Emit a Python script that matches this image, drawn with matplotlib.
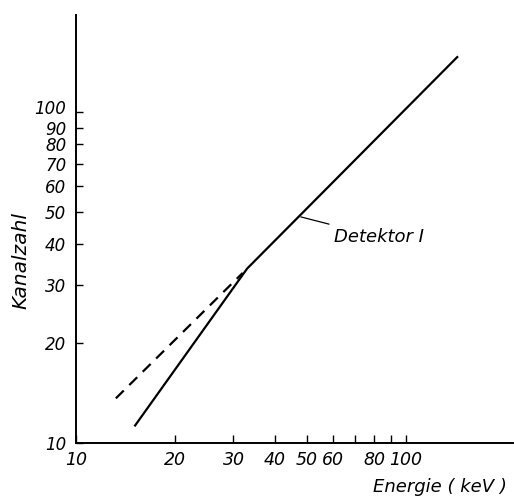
import numpy as np
import matplotlib.pyplot as plt
from matplotlib.ticker import FixedLocator, NullLocator, FixedFormatter
from matplotlib.transforms import ScaledTranslation

# measured curve of detector I (energy in keV, channel number)
energy_det = [15.1, 33.0, 143.0]
channel_det = [11.3, 33.7, 147.0]

# linear extrapolation of the upper part to low energies
energy_extra = [13.2, 32.0]
channel_extra = [13.65, 32.7]

x_ticks = [10, 20, 30, 40, 50, 60, 70, 80, 90, 100]
x_labels = ["10", "20", "30", "40", "50", "60", "", "80", "", "100"]
y_ticks = [10, 20, 30, 40, 50, 60, 70, 80, 90, 100]
y_labels = ["10", "20", "30", "40", "50", "60", "70", "80", "90", "100"]


def make_plot():
    fig = plt.figure(figsize=(5.14, 4.98), dpi=100)
    ax = fig.add_axes([0.148, 0.1104, 0.850, 0.8594])
    ax.set_xscale("log")
    ax.set_yscale("log")
    ax.set_xlim(10, 211)
    ax.set_ylim(10, 197)

    ax.plot(energy_det, channel_det, color="black", linewidth=1.6)
    ax.plot(energy_extra, channel_extra, color="black", linewidth=1.6,
            linestyle=(0, (5, 3.5)))

    for side in ["top", "right"]:
        ax.spines[side].set_visible(False)
    for side in ["left", "bottom"]:
        ax.spines[side].set_linewidth(1.4)

    ax.xaxis.set_major_locator(FixedLocator(x_ticks))
    ax.xaxis.set_major_formatter(FixedFormatter(x_labels))
    ax.xaxis.set_minor_locator(NullLocator())
    ax.yaxis.set_major_locator(FixedLocator(y_ticks))
    ax.yaxis.set_major_formatter(FixedFormatter(y_labels))
    ax.yaxis.set_minor_locator(NullLocator())

    ax.tick_params(axis="x", direction="in", length=6, width=1.0, pad=6,
                   labelsize=12.5)
    ax.tick_params(axis="y", direction="in", length=5, width=1.0, pad=7,
                   labelsize=12)
    for lab in ax.get_xticklabels() + ax.get_yticklabels():
        lab.set_fontstyle("italic")

    # the "100" label sits a little above its tick in the original
    top = ax.yaxis.get_major_ticks()[-1].label1
    top.set_transform(top.get_transform()
                      + ScaledTranslation(0, 4 / 72, fig.dpi_scale_trans))

    ax.annotate("Detektor I", xy=(48.0, 48.3), xytext=(60.5, 42.0),
                fontsize=13, fontstyle="italic", ha="left", va="center",
                arrowprops=dict(arrowstyle="-", color="black", lw=0.9,
                                shrinkA=3, shrinkB=0))

    fig.text(0.986, 0.022, "Energie ( keV )", fontsize=13, fontstyle="italic",
             ha="right", va="center")
    fig.text(0.04, 0.476, "Kanalzahl", fontsize=14.5, fontstyle="italic",
             rotation=90, ha="center", va="center")

    fig.savefig("out.png", dpi=100)


if __name__ == "__main__":
    make_plot()
